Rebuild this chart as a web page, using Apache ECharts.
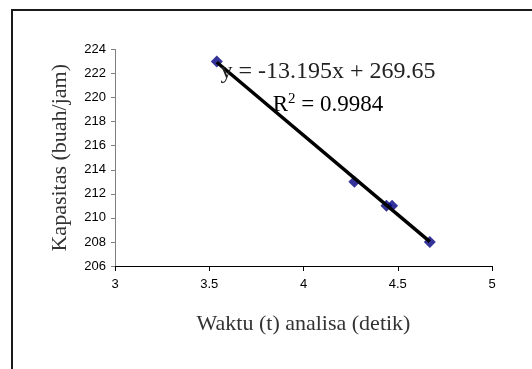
<!DOCTYPE html>
<html><head><meta charset="utf-8">
<script src="https://cdn.jsdelivr.net/npm/echarts@6/dist/echarts.min.js"></script>
<style>html,body{margin:0;padding:0;background:#fff}#c{width:532px;height:369px}</style>
</head><body><div id="c"></div>
<script>
var waktu = [3.54, 4.27, 4.44, 4.47, 4.67];
var kapasitas = [223, 213, 211, 211, 208];
var trendX = [3.54, 4.67];
var trendY = [222.94, 208.03];
var xTitle = 'Waktu (t) analisa (detik)';
var yTitle = 'Kapasitas (buah/jam)';
var eqLine1 = 'y = -13.195x + 269.65';
var eqR2 = '0.9984';

var pts = waktu.map(function(x, i){ return [x, kapasitas[i]]; });
var trend = trendX.map(function(x, i){ return [x, trendY[i]]; });
var chart = echarts.init(document.getElementById('c'));
var serif = '"Liberation Serif", "Times New Roman", serif';
var sans = '"Liberation Sans", Arial, sans-serif';
chart.setOption({
  animation: false,
  grid: {left: 115, right: 40, top: 49.5, bottom: 103},
  xAxis: {
    type: 'value', min: 3, max: 5, interval: 0.5,
    splitLine: {show: false},
    axisLine: {onZero: false, lineStyle: {color: '#000', width: 1}},
    axisTick: {show: true, length: 5, lineStyle: {color: '#000'}},
    axisLabel: {color: '#000', fontFamily: sans, fontSize: 13, margin: 12},
    name: xTitle, nameLocation: 'middle', nameGap: 47,
    nameTextStyle: {fontFamily: serif, fontSize: 22, color: '#333'}
  },
  yAxis: {
    type: 'value', min: 206, max: 224, interval: 2,
    splitLine: {show: false},
    axisLine: {show: true, onZero: false, lineStyle: {color: '#808080', width: 1}},
    axisTick: {show: true, length: 4, lineStyle: {color: '#808080'}},
    axisLabel: {color: '#000', fontFamily: sans, fontSize: 13, margin: 9},
    name: yTitle, nameLocation: 'middle', nameGap: 44,
    nameTextStyle: {fontFamily: serif, fontSize: 22, color: '#333'}
  },
  series: [
    {type: 'scatter', data: pts, symbol: 'diamond', symbolSize: 12,
     itemStyle: {color: '#000080'}, z: 2},
    {type: 'line', data: trend, symbol: 'none', lineStyle: {color: '#000', width: 3.5}, z: 3, silent: true}
  ],
  graphic: [
    {type: 'rect', shape: {x: 12, y: 10, width: 540, height: 380}, style: {fill: 'none', stroke: '#1a1a1a', lineWidth: 2}, z: 0, silent: true},
    {type: 'text', x: 328, y: 72, z: 10,
     style: {text: eqLine1, font: '24px ' + serif, fill: '#222', textAlign: 'center', textVerticalAlign: 'middle'}},
    {type: 'text', x: 328, y: 104, z: 10,
     style: {text: '{b|R}{s|2}{b| = ' + eqR2 + '}', textAlign: 'center', textVerticalAlign: 'middle',
       rich: {b: {fontFamily: serif, fontSize: 23, color: '#222', verticalAlign: 'bottom'},
              s: {fontFamily: serif, fontSize: 15, color: '#222', verticalAlign: 'top', padding: [0, 0, 10, 0]}}}}
  ]
});
</script></body></html>
